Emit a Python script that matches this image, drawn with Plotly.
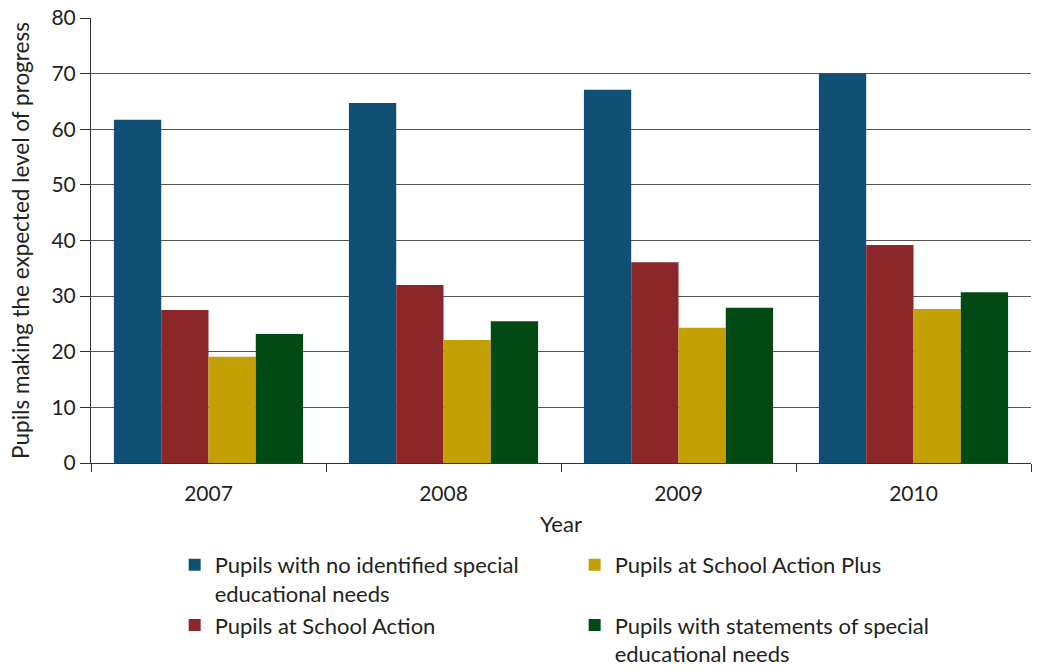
import plotly.graph_objects as go

# Pupils making the expected level of progress, by year and SEN group (%)
years = ["2007", "2008", "2009", "2010"]
no_sen = [61.7, 64.7, 67.1, 70.0]
school_action = [27.5, 32.0, 36.1, 39.2]
school_action_plus = [19.1, 22.1, 24.3, 27.7]
statements = [23.2, 25.5, 27.9, 30.7]

series_names = [
    "Pupils with no identified special<br>educational needs",
    "Pupils at School Action",
    "Pupils at School Action Plus",
    "Pupils with statements of special<br>educational needs",
]
series_values = [no_sen, school_action, school_action_plus, statements]
series_colors = ["#105075", "#8B2629", "#C3A104", "#034913"]
legend_ranks = [1, 3, 2, 4]

FONT = "Lato"
TEXT = "#231F20"

fig = go.Figure()
for name, vals, col, rank in zip(series_names, series_values, series_colors, legend_ranks):
    fig.add_trace(go.Bar(x=years, y=vals, name=name, marker=dict(color=col, line=dict(width=0)),
                         legendrank=rank))

fig.update_layout(
    width=1043, height=671,
    margin=dict(l=91, r=12, t=18, b=208, autoexpand=False),
    paper_bgcolor="white", plot_bgcolor="white",
    font=dict(family=FONT, size=20, color=TEXT),
    barmode="group", bargap=0.195, bargroupgap=0,
    legend=dict(orientation="h", x=0.089, y=-0.182, xanchor="left", yanchor="top",
                entrywidth=355, valign="top", font=dict(size=22, color=TEXT),
                traceorder="normal"),
)
fig.update_xaxes(
    title=dict(text="Year", font=dict(size=22), standoff=12),
    showline=True, linecolor="#333333", linewidth=1,
    ticks="outside", tickson="boundaries", ticklen=8, tickcolor="#333333",
    ticklabelstandoff=12,
    showgrid=False, tickfont=dict(size=21),
)
fig.update_yaxes(
    title=dict(text="Pupils making the expected level of progress", font=dict(size=22.5)),
    range=[0, 80], dtick=10,
    showline=True, linecolor="#333333", linewidth=1,
    ticks="outside", ticklen=10, tickcolor="#333333",
    showgrid=True, gridcolor="#555555", gridwidth=1,
    zeroline=False, tickfont=dict(size=21),
)

fig.write_html("out.html")
